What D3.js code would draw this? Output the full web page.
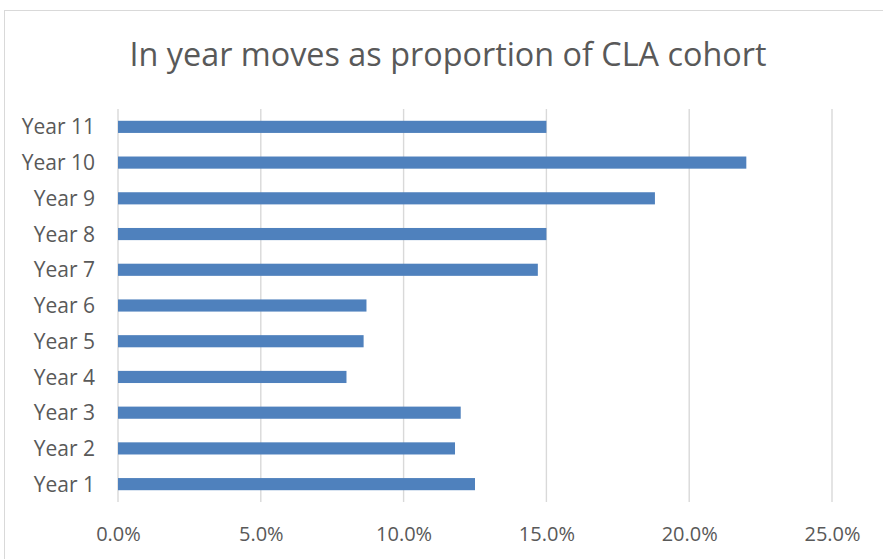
<!DOCTYPE html>
<html>
<head>
<meta charset="utf-8">
<script src="https://cdn.jsdelivr.net/npm/d3@7"></script>
<style>
  html, body { margin: 0; padding: 0; background: #fff; }
  svg { display: block; }
  text { font-family: "Open Sans", "Noto Sans", sans-serif; fill: #595959; }
</style>
</head>
<body>
<script>
// Proportion of the CLA cohort moving school in year, by year group
const categories = ["Year 1", "Year 2", "Year 3", "Year 4", "Year 5", "Year 6",
                    "Year 7", "Year 8", "Year 9", "Year 10", "Year 11"];
const values = [0.125, 0.118, 0.120, 0.080, 0.086, 0.087,
                0.147, 0.150, 0.188, 0.220, 0.150];
const xTicks = [0, 0.05, 0.10, 0.15, 0.20, 0.25];
const title = "In year moves as proportion of CLA cohort";

const W = 883, H = 559;
const plot = { left: 118, right: 832, top: 109, bottom: 502 };

const svg = d3.select("body").append("svg")
  .attr("width", W).attr("height", H);

// chart area frame
svg.append("rect")
  .attr("x", 4.5).attr("y", 10.5)
  .attr("width", W + 10).attr("height", H + 10)
  .attr("fill", "#fff").attr("stroke", "#d9d9d9").attr("stroke-width", 1);

const x = d3.scaleLinear().domain([0, 0.25]).range([plot.left, plot.right]);
const y = d3.scaleBand()
  .domain(categories.slice().reverse())
  .range([plot.top, plot.bottom])
  .paddingInner(0.66).paddingOuter(0.33);

// vertical gridlines
svg.append("g").selectAll("line").data(xTicks).join("line")
  .attr("x1", d => x(d)).attr("x2", d => x(d))
  .attr("y1", plot.top).attr("y2", plot.bottom)
  .attr("stroke", "#d9d9d9").attr("stroke-width", 1.4);

// bars
svg.append("g").selectAll("rect").data(categories).join("rect")
  .attr("x", x(0))
  .attr("y", d => y(d))
  .attr("width", (d, i) => x(values[i]) - x(0))
  .attr("height", y.bandwidth())
  .attr("fill", "#4f81bd");

// x axis labels
const xAxis = d3.axisBottom(x).tickValues(xTicks)
  .tickFormat(d3.format(".1%")).tickSize(0).tickPadding(0);
const gx = svg.append("g").attr("transform", `translate(0,${plot.bottom})`).call(xAxis);
gx.select(".domain").remove();
gx.attr("font-family", null).attr("font-size", null);
gx.selectAll("text")
  .attr("dy", null).attr("y", 39)
  .style("font-size", "20px").attr("fill", "#595959");

// y axis labels
const yAxis = d3.axisLeft(y).tickSize(0).tickPadding(23);
const gy = svg.append("g").attr("transform", `translate(${plot.left},0)`).call(yAxis);
gy.select(".domain").remove();
gy.attr("font-family", null).attr("font-size", null);
gy.selectAll("text")
  .attr("dy", "0.36em")
  .style("font-size", "21px").attr("fill", "#595959");

// title
svg.append("text")
  .attr("x", 448).attr("y", 66)
  .attr("text-anchor", "middle")
  .attr("textLength", 637).attr("lengthAdjust", "spacingAndGlyphs")
  .style("font-size", "32px")
  .text(title);
</script>
</body>
</html>
